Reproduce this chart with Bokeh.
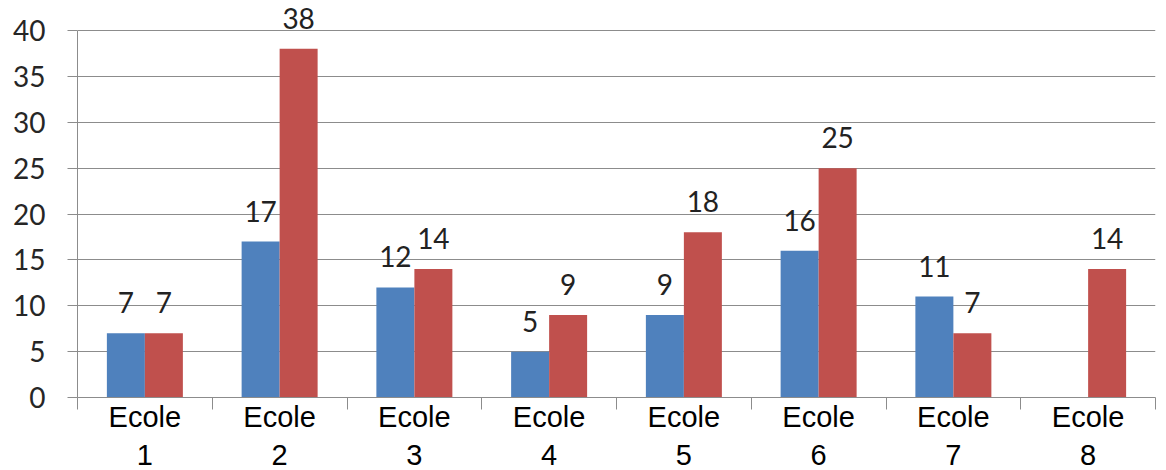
import numpy as np
from bokeh.plotting import figure
from bokeh.models import ColumnDataSource, LabelSet, FixedTicker, Range1d
from bokeh.transform import dodge
from bokeh.core.properties import value
from bokeh.embed import file_html
from bokeh.resources import INLINE

# ---- data ----
categories = ["Ecole 1", "Ecole 2", "Ecole 3", "Ecole 4", "Ecole 5", "Ecole 6", "Ecole 7", "Ecole 8"]
series_blue = [7, 17, 12, 5, 9, 16, 11, None]
series_red = [7, 38, 14, 9, 18, 25, 7, 14]
y_ticks = [0, 5, 10, 15, 20, 25, 30, 35, 40]

# ---- layout / style ----
BLUE = "#4F81BD"
RED = "#C0504D"
GRID = "#8c8c8c"
BAR_W = 0.282
Y_TOP = 43.27   # headroom above the 40 line so the top data label is not clipped

n = len(categories)
xc = np.arange(n) + 0.5
blue = np.array([np.nan if v is None else v for v in series_blue], dtype=float)
red = np.array(series_red, dtype=float)

def fmt(v):
    return "" if np.isnan(v) else str(int(v))

src = ColumnDataSource(dict(
    xc=xc,
    blue=blue,
    red=red,
    blue_txt=[fmt(v) for v in blue],
    red_txt=[fmt(v) for v in red],
))

p = figure(frame_width=1078, frame_height=397, x_range=Range1d(0, n), y_range=Range1d(0, Y_TOP),
           output_backend="svg", toolbar_location=None,
           min_border_left=77, min_border_right=3, min_border_top=0, min_border_bottom=0)
p.outline_line_color = None
p.background_fill_color = "white"
p.border_fill_color = "white"

p.xgrid.visible = False
p.ygrid.ticker = FixedTicker(ticks=y_ticks)
p.ygrid.grid_line_color = GRID
p.ygrid.grid_line_width = 1

p.yaxis.ticker = FixedTicker(ticks=y_ticks)
p.yaxis.bounds = (y_ticks[0], y_ticks[-1])
p.yaxis.axis_line_color = GRID
p.yaxis.major_tick_line_color = GRID
p.yaxis.major_tick_out = 10
p.yaxis.major_tick_in = 0
p.yaxis.minor_tick_line_color = None
p.yaxis.major_label_text_font = "Lato"
p.yaxis.major_label_text_font_size = "28px"
p.yaxis.major_label_text_color = "#262626"
p.yaxis.major_label_standoff = 22

p.xaxis.ticker = FixedTicker(ticks=list(xc), minor_ticks=list(range(n + 1)))
p.xaxis.axis_line_color = GRID
p.xaxis.major_tick_out = 0
p.xaxis.major_tick_in = 0
p.xaxis.major_tick_line_color = None
p.xaxis.minor_tick_out = 12
p.xaxis.minor_tick_in = 0
p.xaxis.minor_tick_line_color = GRID
p.xaxis.major_label_overrides = {float(c): cat.replace(" ", "\n") for c, cat in zip(xc, categories)}
p.xaxis.major_label_text_font = "Liberation Sans"
p.xaxis.major_label_text_font_size = "29px"
p.xaxis.major_label_text_color = "black"
p.xaxis.major_label_standoff = -9

p.vbar(x=dodge("xc", -BAR_W / 2), top="blue", width=BAR_W, source=src,
       fill_color=BLUE, line_color=None)
p.vbar(x=dodge("xc", BAR_W / 2), top="red", width=BAR_W, source=src,
       fill_color=RED, line_color=None)

for col, txt, sh in (("blue", "blue_txt", -BAR_W / 2), ("red", "red_txt", BAR_W / 2)):
    p.add_layout(LabelSet(x=dodge("xc", sh), y=col, text=txt, source=src,
                          y_offset=20, text_align="center", text_baseline="alphabetic",
                          text_font=value("Lato"), text_font_size=value("28px"),
                          text_color="#222222"))

open("out.html", "w").write(file_html(p, INLINE))
